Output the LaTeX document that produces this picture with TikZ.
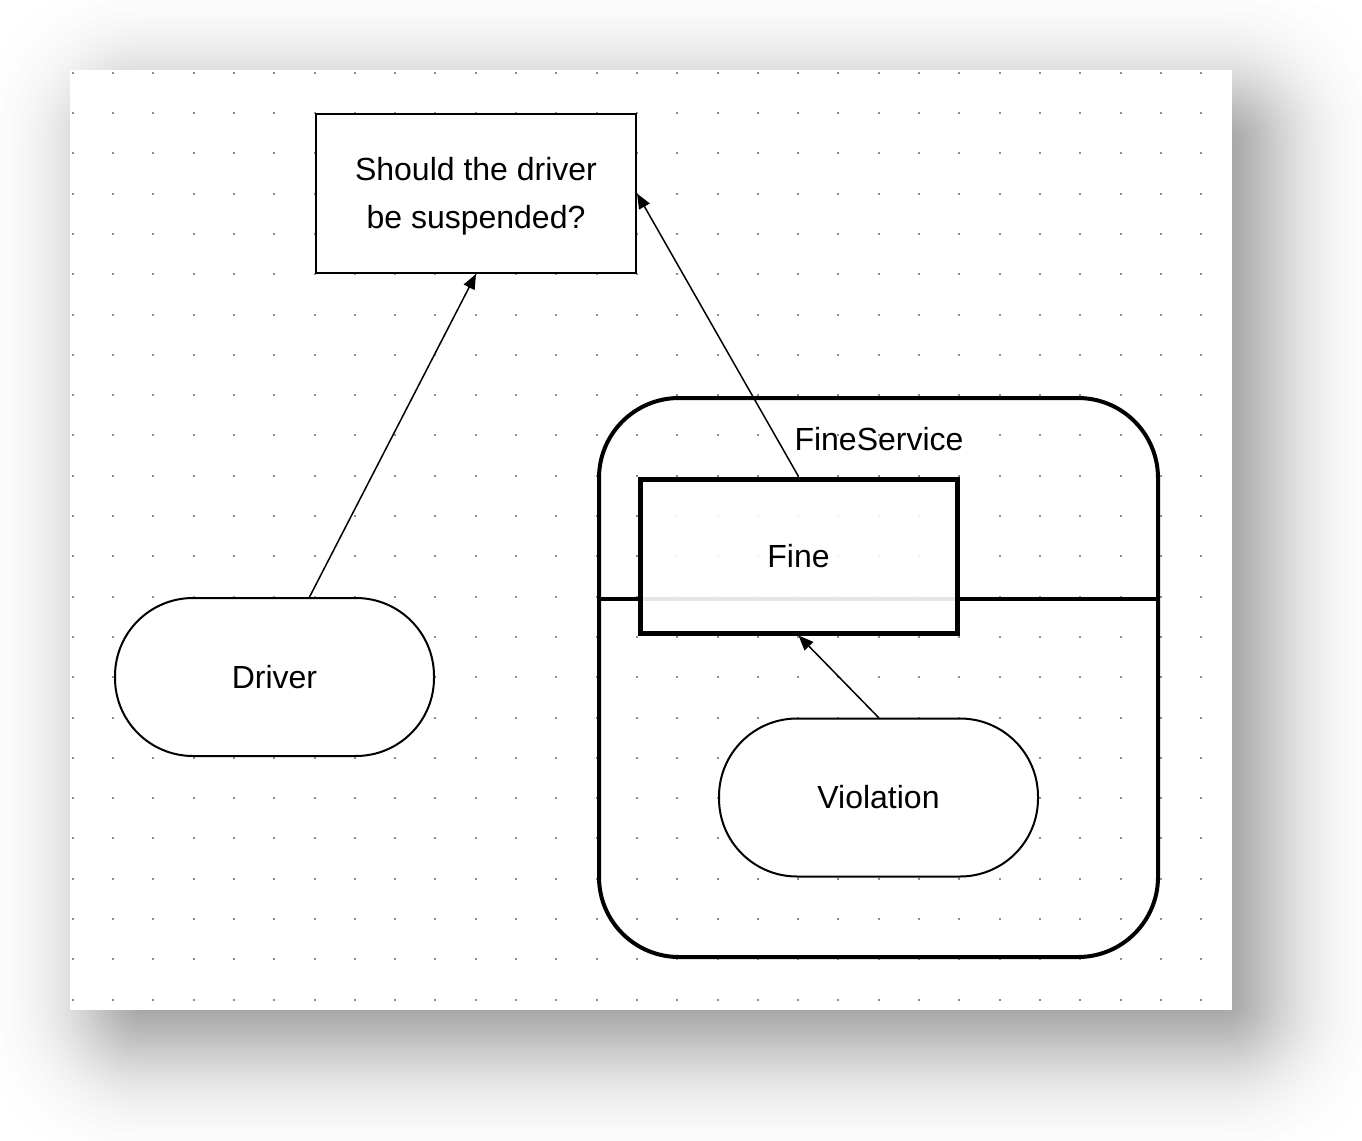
\documentclass[tikz,border=0pt]{standalone}
\usepackage{fontspec}
\setmainfont{Liberation Sans}
\usetikzlibrary{arrows.meta,calc}
\definecolor{dotc}{RGB}{140,140,150}
\begin{document}
\begin{tikzpicture}[x=1pt,y=-1pt,
  every node/.style={font=\fontsize{32}{48}\selectfont, inner sep=0pt},
  thinbox/.style={draw=black, line width=2pt, fill=white},
  stadium/.style={thinbox, rounded corners=78pt, minimum width=319pt, minimum height=158pt},
  conn/.style={draw=black, line width=1.5pt, -{Triangle[length=15pt,width=12pt]}},
]
\useasboundingbox (0,0) rectangle (1362,1140);
\fill[white] (0,0) rectangle (1362,1140);
% soft drop shadow (layered approximation of a gaussian blur)
\foreach \k in {0,...,59}{
  \pgfmathsetmacro{\p}{(\k+0.5)/60}
  \pgfmathsetmacro{\e}{53*4.91*(pow(1-\p,0.14)-pow(\p,0.14))}
  \pgfmathsetmacro{\r}{max(\e+40,2)}
  \fill[black, opacity=0.0088, rounded corners=\r pt] ({102-(\e)},{102-(\e)}) rectangle ({1264+(\e)},{1042+(\e)});
}
% canvas
\fill[white] (70,70) rectangle (1232,1010);
\foreach \i in {0,...,28}
  \foreach \j in {0,...,23}
    \fill[dotc] ({71.7+40.3*\i},{71.7+40.3*\j}) rectangle +(2,2);
% container
\node[draw=black, line width=4pt, rounded corners=80pt, minimum width=559pt, minimum height=559pt] (svc) at (878.5,677.5) {};
\coordinate (divl) at ($(svc.west)+(0,-78.5)$);
\coordinate (divr) at ($(svc.east)+(0,-78.5)$);
\draw[line width=4pt] (divl) -- (divr);
\node (svclabel) at (879,439) {FineService};
\node[draw=black, line width=5pt, fill=white, fill opacity=0.9, text opacity=1, minimum width=317pt, minimum height=154pt] (fine) at (798.5,556) {Fine};
\node[stadium] (viol) at (878.5,797.5) {Violation};
% left part
\node[thinbox, minimum width=320pt, minimum height=159pt] (q) at (476,193.5) {};
\node[align=center] (qtext) at (476,196) {Should the driver\\be suspended?};
\node[stadium] (driver) at (274.5,677) {Driver};
% connectors
\draw[conn] ([xshift=35pt]driver.north) -- (q.south);
\draw[conn] (fine.north) -- (q.east);
\draw[conn] (viol.north) -- (fine.south);
\end{tikzpicture}
\end{document}
